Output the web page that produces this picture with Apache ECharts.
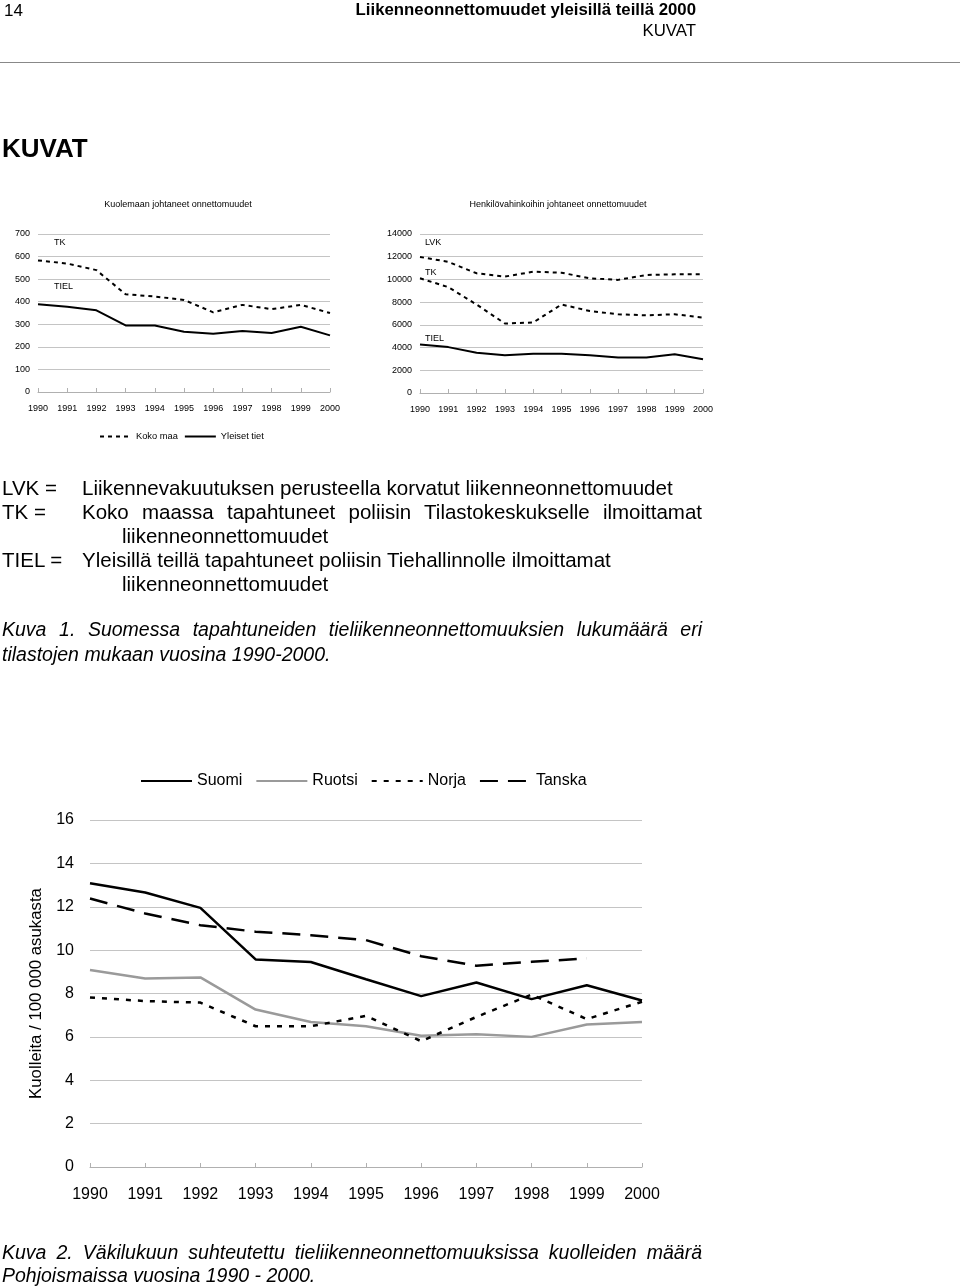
<!DOCTYPE html>
<html>
<head>
<meta charset="utf-8">
<script src="https://cdn.jsdelivr.net/npm/echarts@6/dist/echarts.min.js"></script>
<style>
html,body{margin:0;padding:0;background:#fff;}
#page{position:relative;width:960px;height:1287px;overflow:hidden;font-family:"Liberation Sans",Arial,sans-serif;color:#000;}
#chart{position:absolute;left:0;top:0;width:960px;height:1287px;}
.t{position:absolute;white-space:nowrap;line-height:1;}
.j{position:absolute;white-space:nowrap;text-align:justify;text-align-last:justify;line-height:1;}
</style>
</head>
<body>
<div id="page">
<div id="chart"></div>
<div class="t" style="left:4px;top:2px;font-size:17px;">14</div>
<div class="t" style="right:264px;top:2px;font-size:16.8px;font-weight:bold;">Liikenneonnettomuudet yleisillä teillä 2000</div>
<div class="t" style="right:264px;top:23px;font-size:16.8px;">KUVAT</div>
<div style="position:absolute;left:0;top:62px;width:960px;height:0;border-top:1.5px solid #888;"></div>
<div class="t" style="left:2px;top:135px;font-size:26px;font-weight:bold;">KUVAT</div>

<div class="t" style="left:2px;top:478px;font-size:20.5px;">LVK =</div>
<div class="t" style="left:82px;top:478px;font-size:20.6px;">Liikennevakuutuksen perusteella korvatut liikenneonnettomuudet</div>
<div class="t" style="left:2px;top:502px;font-size:20.5px;">TK =</div>
<div class="j" style="left:82px;top:502px;width:620px;font-size:20.5px;">Koko maassa tapahtuneet poliisin Tilastokeskukselle ilmoittamat</div>
<div class="t" style="left:122px;top:526px;font-size:20.5px;">liikenneonnettomuudet</div>
<div class="t" style="left:2px;top:550px;font-size:20.5px;">TIEL =</div>
<div class="t" style="left:82px;top:550px;font-size:20.5px;">Yleisillä teillä tapahtuneet poliisin Tiehallinnolle ilmoittamat</div>
<div class="t" style="left:122px;top:574px;font-size:20.5px;">liikenneonnettomuudet</div>
<div class="j" style="left:2px;top:620px;width:700px;font-size:19.5px;font-style:italic;">Kuva 1. Suomessa tapahtuneiden tieliikenneonnettomuuksien lukumäärä eri</div>
<div class="t" style="left:2px;top:645px;font-size:19.5px;font-style:italic;">tilastojen mukaan vuosina 1990-2000.</div>

<div class="j" style="left:2px;top:1243px;width:700px;font-size:19.5px;font-style:italic;">Kuva 2. Väkilukuun suhteutettu tieliikenneonnettomuuksissa kuolleiden määrä</div>
<div class="t" style="left:2px;top:1266px;font-size:19.5px;font-style:italic;">Pohjoismaissa vuosina 1990 - 2000.</div>
</div>
<script>
var years = ['1990','1991','1992','1993','1994','1995','1996','1997','1998','1999','2000'];

// Kuva 1, vasen: Kuolemaan johtaneet onnettomuudet
var deathTK   = [583, 569, 540, 433, 423, 408, 353, 386, 367, 386, 350];
var deathTIEL = [389, 378, 362, 295, 295, 267, 258, 270, 261, 289, 251];

// Kuva 1, oikea: Henkilövahinkoihin johtaneet onnettomuudet
var injLVK  = [11980, 11550, 10540, 10250, 10680, 10590, 10100, 9960, 10390, 10450, 10450];
var injTK   = [10100, 9320, 7790, 6120, 6210, 7790, 7220, 6930, 6840, 6930, 6640];
var injTIEL = [4270, 4040, 3550, 3320, 3460, 3460, 3320, 3120, 3120, 3410, 2970];

// Kuva 2: Kuolleita / 100 000 asukasta
var suomi  = [13.08, 12.66, 11.95, 9.57, 9.45, 8.66, 7.88, 8.51, 7.74, 8.38, 7.68];
var ruotsi = [9.08, 8.69, 8.74, 7.26, 6.69, 6.49, 6.05, 6.12, 6.00, 6.57, 6.69];
var norja  = [7.82, 7.65, 7.58, 6.49, 6.49, 6.97, 5.80, 6.92, 7.95, 6.82, 7.62];
var tanska = [12.38, 11.69, 11.15, 10.85, 10.69, 10.46, 9.72, 9.28, 9.46, 9.62, null];

var FF = '"Liberation Sans", Arial, sans-serif';
var chart = echarts.init(document.getElementById('chart'));

function xAx(idx, fs, margin) {
  return {
    type: 'category', data: years, gridIndex: idx, boundaryGap: false,
    axisLine: {lineStyle: {color: '#b0b0b0', width: 1}},
    axisTick: {show: true, inside: true, length: 4, lineStyle: {color: '#b0b0b0'}},
    axisLabel: {color: '#000', fontSize: fs, fontFamily: FF, margin: margin, interval: 0},
    splitLine: {show: false}
  };
}
function yAx(idx, max, interval, fs, margin) {
  return {
    type: 'value', gridIndex: idx, min: 0, max: max, interval: interval,
    axisLine: {show: false}, axisTick: {show: false},
    axisLabel: {color: '#000', fontSize: fs, fontFamily: FF, margin: margin,
                formatter: function (v) { return String(v); }},
    splitLine: {lineStyle: {color: '#c4c4c4', width: 1}}
  };
}
var y3 = yAx(2, 16, 2, 16, 16);
y3.name = 'Kuolleita / 100 000 asukasta';
y3.nameLocation = 'middle';
y3.nameRotate = 90;
y3.nameGap = 44;
y3.nameTextStyle = {fontSize: 16.8, fontFamily: FF, color: '#000', padding: [0, 0, 0, 0]};

var option = {
  animation: false,
  title: [
    {text: 'Kuolemaan johtaneet onnettomuudet', left: 173, top: 195, textAlign: 'center',
     textStyle: {fontSize: 9, fontWeight: 'normal', fontFamily: FF, color: '#000'}},
    {text: 'Henkilövahinkoihin johtaneet onnettomuudet', left: 553, top: 195, textAlign: 'center',
     textStyle: {fontSize: 9, fontWeight: 'normal', fontFamily: FF, color: '#000'}}
  ],
  legend: [
    {data: ['Koko maa', 'Yleiset tiet'], left: 99, top: 432, padding: 0, itemWidth: 31, itemHeight: 8,
     itemGap: 6, itemStyle: {opacity: 0}, textStyle: {fontSize: 9.3, fontFamily: FF, color: '#000'}},
    {data: ['Suomi', 'Ruotsi', 'Norja', 'Tanska'], left: 140, top: 773, padding: 0, itemWidth: 51, itemHeight: 14,
     itemGap: 13, itemStyle: {opacity: 0}, textStyle: {fontSize: 16, fontFamily: FF, color: '#000'}}
  ],
  grid: [
    {left: 38, top: 234, width: 292, height: 158},
    {left: 420, top: 234, width: 283, height: 159},
    {left: 90, top: 820, width: 552, height: 347}
  ],
  xAxis: [xAx(0, 9, 12), xAx(1, 9, 12), xAx(2, 16, 20)],
  yAxis: [yAx(0, 700, 100, 9, 8), yAx(1, 14000, 2000, 9, 8), y3],
  graphic: [
    {type: 'text', left: 54, top: 238, style: {text: 'TK', font: '9px ' + FF, fill: '#000'}},
    {type: 'text', left: 54, top: 282, style: {text: 'TIEL', font: '9px ' + FF, fill: '#000'}},
    {type: 'text', left: 425, top: 238, style: {text: 'LVK', font: '9px ' + FF, fill: '#000'}},
    {type: 'text', left: 425, top: 268, style: {text: 'TK', font: '9px ' + FF, fill: '#000'}},
    {type: 'text', left: 425, top: 334, style: {text: 'TIEL', font: '9px ' + FF, fill: '#000'}}
  ],
  series: [
    {name: 'Koko maa', type: 'line', xAxisIndex: 0, yAxisIndex: 0, data: deathTK, symbol: 'none',
     lineStyle: {color: '#000', width: 2, type: [4, 4]}, itemStyle: {color: '#000'}},
    {name: 'Yleiset tiet', type: 'line', xAxisIndex: 0, yAxisIndex: 0, data: deathTIEL, symbol: 'none',
     lineStyle: {color: '#000', width: 2}, itemStyle: {color: '#000'}},
    {name: 'Koko maa', type: 'line', xAxisIndex: 1, yAxisIndex: 1, data: injLVK, symbol: 'none',
     lineStyle: {color: '#000', width: 2, type: [4, 4]}, itemStyle: {color: '#000'}},
    {name: 'Koko maa', type: 'line', xAxisIndex: 1, yAxisIndex: 1, data: injTK, symbol: 'none',
     lineStyle: {color: '#000', width: 2, type: [4, 4]}, itemStyle: {color: '#000'}},
    {name: 'Yleiset tiet', type: 'line', xAxisIndex: 1, yAxisIndex: 1, data: injTIEL, symbol: 'none',
     lineStyle: {color: '#000', width: 2}, itemStyle: {color: '#000'}},
    {name: 'Suomi', type: 'line', xAxisIndex: 2, yAxisIndex: 2, data: suomi, symbol: 'none',
     lineStyle: {color: '#000', width: 2.5}, itemStyle: {color: '#000'}},
    {name: 'Ruotsi', type: 'line', xAxisIndex: 2, yAxisIndex: 2, data: ruotsi, symbol: 'none',
     lineStyle: {color: '#9a9a9a', width: 2.5}, itemStyle: {color: '#9a9a9a'}},
    {name: 'Norja', type: 'line', xAxisIndex: 2, yAxisIndex: 2, data: norja, symbol: 'none',
     lineStyle: {color: '#000', width: 2.5, type: [5, 7]}, itemStyle: {color: '#000'}},
    {name: 'Tanska', type: 'line', xAxisIndex: 2, yAxisIndex: 2, data: tanska, symbol: 'none',
     lineStyle: {color: '#000', width: 2.5, type: [18, 10]}, itemStyle: {color: '#000'}}
  ]
};
chart.setOption(option);
</script>
</body>
</html>
